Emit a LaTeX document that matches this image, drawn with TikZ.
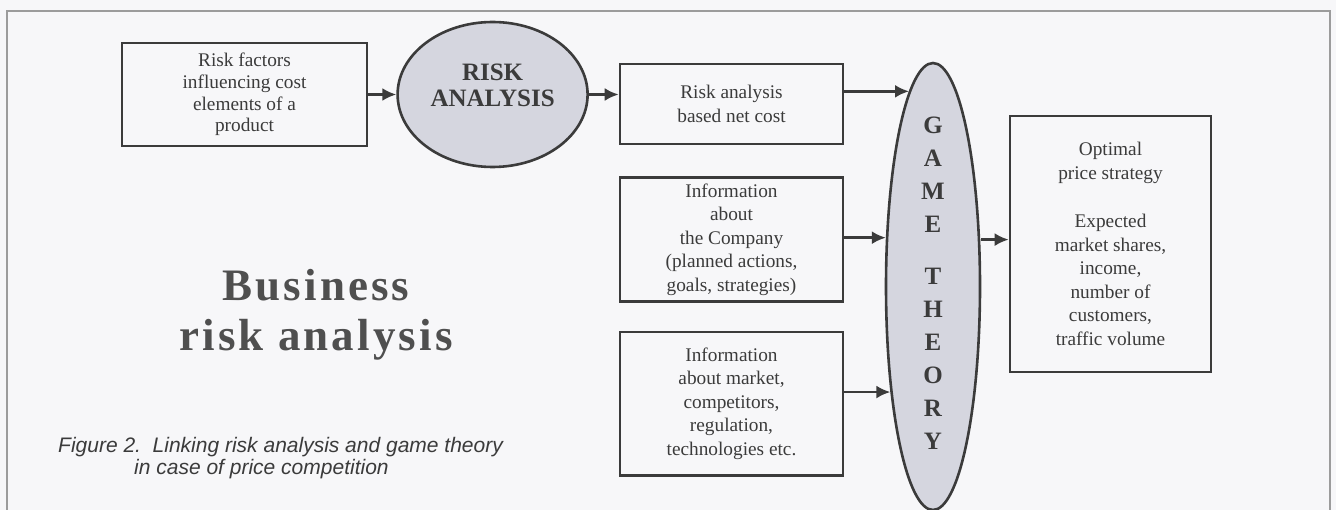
\documentclass[tikz,border=0pt]{standalone}
\usepackage{fontspec}
\setmainfont{Liberation Serif}
\newfontfamily\capfont{Liberation Sans}
\usetikzlibrary{shapes,arrows.meta,positioning}

\definecolor{ink}{HTML}{3B3B3B}
\definecolor{paper}{HTML}{F7F7F9}
\definecolor{shade}{HTML}{D5D6DF}
\definecolor{framegray}{HTML}{9C9C9C}

\begin{document}
\begin{tikzpicture}[
    x=1pt, y=-1pt,
    box/.style={draw=ink, rectangle, line width=2.6pt, align=center, text=ink,
        inner sep=0pt, font=\fontsize{19.3}{23.5}\selectfont},
    blob/.style={draw=ink, ellipse, line width=2.6pt, fill=shade, inner sep=0pt},
    arrow/.style={-{Latex[length=14pt,width=13pt]}, line width=2.6pt, draw=ink},
    node distance=0.5cm
]

% Page and frame
\fill[paper] (0,0) rectangle (1336,510);
\useasboundingbox (0,0) rectangle (1336,510);
\draw[framegray, line width=1.2pt] (7,520) -- (7,11) -- (1330,11) -- (1330,520);

% Risk side
\node[box, minimum width=245pt, minimum height=103pt, font=\fontsize{19.3}{21.7}\selectfont] (box1) at (244.5,94.5) {Risk factors\\influencing cost\\elements of a\\product};
\node[blob, minimum width=190pt, minimum height=145pt, right=28pt of box1] (risk) {};
\node[font=\bfseries\fontsize{25}{26}\selectfont, text=ink, align=center] (risktext) at ([yshift=9pt]risk.center) {RISK\\ANALYSIS};

% Information boxes
\node[box, minimum width=223pt, minimum height=80pt] (box2) at (731.5,104) {Risk analysis\\based net cost};
\node[box, minimum width=223pt, minimum height=124pt, below=31pt of box2] (box3) {Information\\about\\the Company\\(planned actions,\\goals, strategies)};
\node[box, minimum width=223pt, minimum height=143pt, below=28pt of box3] (box4) {Information\\about market,\\competitors,\\regulation,\\technologies etc.};

% Game theory
\node[blob, minimum width=94pt, minimum height=447pt] (game) at (933,286.5) {};
\node[font=\bfseries\fontsize{25}{33}\selectfont, text=ink, align=center] (gametext) at ([yshift=3.5pt]game.center) {G\\A\\M\\E\\[19pt]T\\H\\E\\O\\R\\Y};

% Result
\node[box, minimum width=201pt, minimum height=256pt] (box5) at (1110.5,244) {Optimal\\price strategy\\[25pt]Expected\\market shares,\\income,\\number of\\customers,\\traffic volume};

% Arrows
\draw[arrow] (box1) -- (risk);
\draw[arrow] (risk.east) -- (risk.east -| box2.west);
\foreach \i/\a in {2/97.5, 3/134.7, 4/248.8}
    \draw[arrow] (box\i.east |- game.\a) -- (game.\a);
\draw[arrow] (game.east |- box3) -- (box5.west |- box3);

% Title
\node[font=\bfseries\fontsize{45}{50}\selectfont\addfontfeature{LetterSpace=7}, text=ink!90, align=center] (title) at (316,314.5) {Business\\risk analysis};

% Caption
\node[font=\capfont\itshape\fontsize{21}{22}\selectfont, text=ink, align=left, anchor=north west, inner sep=0pt] (caption) at (58,437) {Figure 2.\ \ Linking risk analysis and game theory\\\hspace*{76pt}in case of price competition};

\end{tikzpicture}
\end{document}
